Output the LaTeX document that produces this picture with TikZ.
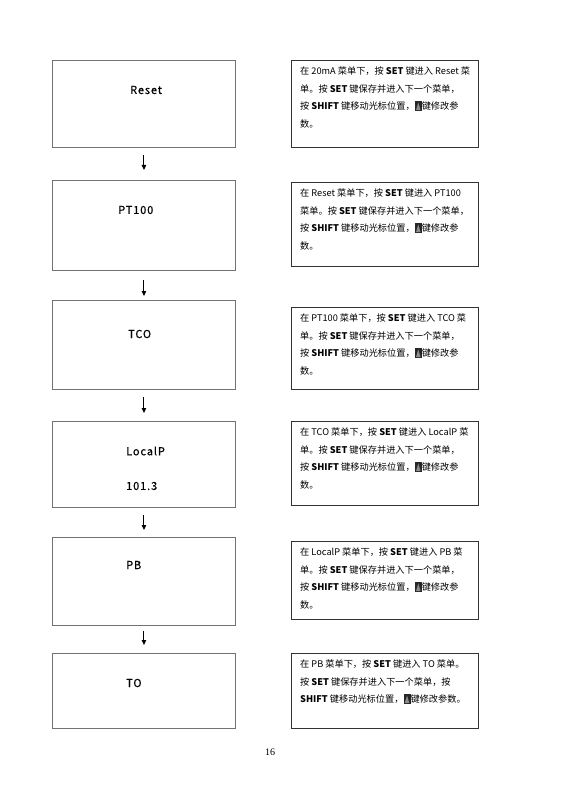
\documentclass[tikz,border=0pt]{standalone}
\usepackage{fontspec}
\setmainfont{Noto Sans CJK SC}
\newfontfamily\labfont[FakeBold=0.6,LetterSpace=8]{Noto Sans CJK SC}
\newfontfamily\pgfont{Liberation Serif}
\usetikzlibrary{arrows.meta}
\newcommand\upkey{\tikz[baseline=0pt]{\fill[black!85] (0pt,-1pt) rectangle (7pt,8.5pt); \fill[black!45] (1.2pt,-0.2pt) -- (3.5pt,7.5pt) -- (5.8pt,-0.2pt) -- cycle;}}
\tikzset{
  lbox/.style={draw=black!55, line width=0.9pt, minimum width=183pt, anchor=north west, inner sep=0pt},
  rbox/.style={draw=black!80, line width=1.3pt, minimum width=187pt, anchor=north west, inner sep=0pt},
  ltext/.style={font=\labfont\fontsize{11}{12}\selectfont, anchor=west, inner sep=0pt},
  rtext/.style={font=\fontsize{9.2}{17.5}\selectfont, align=left, anchor=north west, inner sep=0pt},
  arr/.style={draw=black, line width=1pt, -{Triangle[length=5pt,width=4.5pt]}}
}
\begin{document}
\begin{tikzpicture}[x=1pt,y=-1pt]
\useasboundingbox[fill=white] (0,0) rectangle (560,791);
% left boxes
\node[lbox, minimum height=87pt] (L1) at (52,60) {};
\node[lbox, minimum height=90pt] (L2) at (52,180) {};
\node[lbox, minimum height=89pt] (L3) at (52,300) {};
\node[lbox, minimum height=86pt] (L4) at (52,421) {};
\node[lbox, minimum height=88pt] (L5) at (52,537) {};
\node[lbox, minimum height=75pt] (L6) at (52,653) {};
\node[ltext] (L1t) at (130,90) {Reset};
\node[ltext] (L2t) at (118,210) {PT100};
\node[ltext] (L3t) at (128,334) {TCO};
\node[ltext] (L4t) at (126,451) {LocalP};
\node[ltext] (L4v) at (126,486) {101.3};
\node[ltext] (L5t) at (126,565) {PB};
\node[ltext] (L6t) at (126,683) {TO};
% arrows
\draw[arr, shorten <=7pt, shorten >=10pt] (L1) -- (L2);
\draw[arr, shorten <=9pt, shorten >=4pt] (L2) -- (L3);
\draw[arr, shorten <=7pt, shorten >=8pt] (L3) -- (L4);
\draw[arr, shorten <=7pt, shorten >=7pt] (L4) -- (L5);
\draw[arr, shorten <=5pt, shorten >=8pt] (L5) -- (L6);
% right boxes
\node[rbox, minimum height=87pt] (R1) at (291,60) {};
\node[rbox, minimum height=84pt] (R2) at (291,182) {};
\node[rbox, minimum height=82pt] (R3) at (291,307) {};
\node[rbox, minimum height=84pt] (R4) at (291,421) {};
\node[rbox, minimum height=78pt] (R5) at (291,541) {};
\node[rbox, minimum height=75pt] (R6) at (291,653) {};
\node[rtext] (R1t) at ([xshift=9pt,yshift=-7pt]R1.north west) {在 20mA 菜单下，按 \textbf{SET} 键进入 Reset 菜\\单。按 \textbf{SET} 键保存并进入下一个菜单，\\按 \textbf{SHIFT} 键移动光标位置，\upkey 键修改参\\数。};
\node[rtext] (R2t) at ([xshift=9pt,yshift=-7pt]R2.north west) {在 Reset 菜单下，按 \textbf{SET} 键进入 PT100\\菜单。按 \textbf{SET} 键保存并进入下一个菜单，\\按 \textbf{SHIFT} 键移动光标位置，\upkey 键修改参\\数。};
\node[rtext] (R3t) at ([xshift=9pt,yshift=-7pt]R3.north west) {在 PT100 菜单下，按 \textbf{SET} 键进入 TCO 菜\\单。按 \textbf{SET} 键保存并进入下一个菜单，\\按 \textbf{SHIFT} 键移动光标位置，\upkey 键修改参\\数。};
\node[rtext] (R4t) at ([xshift=9pt,yshift=-7pt]R4.north west) {在 TCO 菜单下，按 \textbf{SET} 键进入 LocalP 菜\\单。按 \textbf{SET} 键保存并进入下一个菜单，\\按 \textbf{SHIFT} 键移动光标位置，\upkey 键修改参\\数。};
\node[rtext] (R5t) at ([xshift=9pt,yshift=-7pt]R5.north west) {在 LocalP 菜单下，按 \textbf{SET} 键进入 PB 菜\\单。按 \textbf{SET} 键保存并进入下一个菜单，\\按 \textbf{SHIFT} 键移动光标位置，\upkey 键修改参\\数。};
\node[rtext] (R6t) at ([xshift=9pt,yshift=-7pt]R6.north west) {在 PB 菜单下，按 \textbf{SET} 键进入 TO 菜单。\\按 \textbf{SET} 键保存并进入下一个菜单，按\\\textbf{SHIFT} 键移动光标位置，\upkey 键修改参数。};
% page number
\node[font=\pgfont\fontsize{10}{12}\selectfont, inner sep=0pt] (pg) at (270,752) {16};
\end{tikzpicture}
\end{document}
